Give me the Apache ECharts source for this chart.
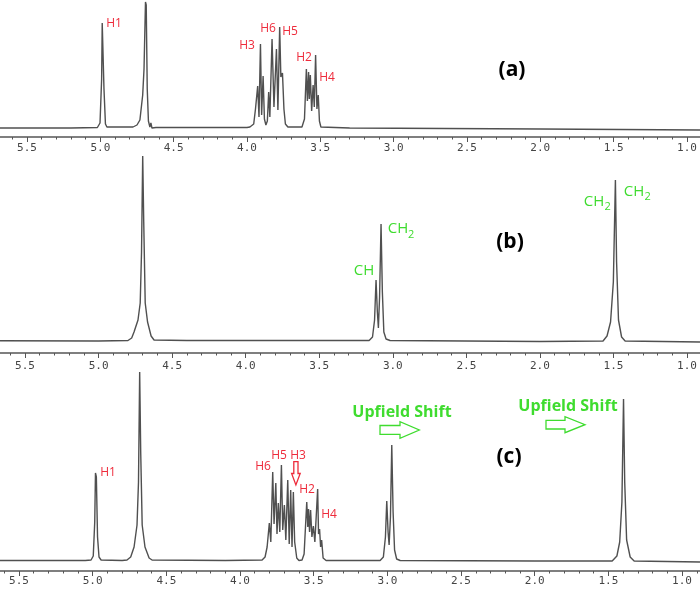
<!DOCTYPE html>
<html><head><meta charset="utf-8">
<script src="https://cdn.jsdelivr.net/npm/echarts@6/dist/echarts.min.js"></script>
<style>html,body{margin:0;padding:0;background:#fff}#c{width:700px;height:589px}</style>
</head><body><div id="c"></div>
<script>
// chemical shift (ppm) and intensity
const shiftA = [5.684,5.2,5.02,5.016,5.002,4.991,4.987,4.982,4.975,4.965,4.955,4.80,4.777,4.750,4.730,4.711,4.702,4.692,4.687,4.680,4.672,4.662,4.655,4.648,4.621,4.0,3.980,3.954,3.942,3.927,3.918,3.908,3.900,3.890,3.881,3.871,3.861,3.852,3.844,3.829,3.816,3.799,3.789,3.777,3.769,3.758,3.748,3.738,3.721,3.625,3.608,3.595,3.588,3.580,3.575,3.568,3.559,3.549,3.541,3.532,3.523,3.514,3.506,3.496,3.3,2.0,0.911];
const intenA = [1,1,1.5,2,6,50,106,104,40,5,2,2,2,4,9,34,60,127,124,40,8,2,6,1,1.5,1.5,2,5,20,43,12,85,14,53,10,4,8,37,12,90,22,80,19,102,52,56,20,5,2,2,10,60,28,57,30,54,18,44,22,74,20,34,8,2,1,0,-1];
const shiftB = [5.670,5.0,4.800,4.775,4.759,4.732,4.717,4.708,4.700,4.693,4.683,4.667,4.643,4.623,4.4,3.161,3.138,3.124,3.114,3.105,3.098,3.090,3.080,3.071,3.061,3.046,3.019,2.0,1.571,1.544,1.520,1.501,1.487,1.479,1.466,1.445,1.421,0.912];
const intenB = [1.3,1,1.5,4,10,22,39,90,186,120,39,20,6,2,1.5,1.5,5,22,62,30,14,45,118,50,10,3,1.5,0.5,1,6,20,60,162,80,22,5,1,0];
const shiftC = [5.629,5.05,5.011,4.996,4.986,4.981,4.975,4.967,4.957,4.943,4.80,4.767,4.742,4.719,4.699,4.689,4.681,4.674,4.664,4.645,4.617,4.597,4.1,3.850,3.830,3.816,3.801,3.791,3.778,3.769,3.757,3.749,3.740,3.730,3.719,3.710,3.699,3.689,3.676,3.666,3.656,3.647,3.638,3.629,3.615,3.600,3.579,3.565,3.547,3.540,3.535,3.528,3.521,3.512,3.502,3.492,3.473,3.467,3.460,3.453,3.446,3.436,3.416,3.049,3.027,3.013,3.004,2.995,2.988,2.979,2.970,2.961,2.951,2.937,2.913,2.0,1.474,1.442,1.423,1.408,1.397,1.389,1.376,1.352,1.325,0.878];
const intenC = [1.5,1.5,2,6,40,89,85,25,5,2,1.5,2,5,15,37,80,190,110,37,15,4,2,1.5,2,5,15,39,20,90,38,79,28,59,30,97,32,57,22,82,18,72,15,70,20,4,1.5,2,8,60,35,53,30,52,25,36,20,73,28,33,15,22,4,1.5,1.5,5,25,61,30,17,45,117,50,12,3,1.5,1,1,6,20,60,163,80,22,5,1,0];
const majorTicks = [1.0,1.5,2.0,2.5,3.0,3.5,4.0,4.5,5.0,5.5];

const minorTicks = [];
for (let i = 9; i <= 56; i++) minorTicks.push(i / 10);

const zip = (xs, ys) => xs.map((x, i) => [x, ys[i]]);
const panels = [
  {data: zip(shiftA, intenA), xmin: 0.911, xmax: 5.684, ymin: -8, ymax: 129, top: 0, height: 137, margin: 6},
  {data: zip(shiftB, intenB), xmin: 0.912, xmax: 5.670, ymin: -11, ymax: 192, top: 150, height: 203, margin: 8},
  {data: zip(shiftC, intenC), xmin: 0.878, xmax: 5.629, ymin: -9, ymax: 197, top: 365, height: 206, margin: 5}
];
const AX = '#555';
const grid = [], xAxis = [], yAxis = [], series = [];
panels.forEach((p, i) => {
  grid.push({left: 0, right: 0, top: p.top, height: p.height});
  xAxis.push({type: 'value', gridIndex: i, position: 'bottom', min: p.xmin, max: p.xmax, inverse: true,
    axisLine: {show: true, onZero: false, lineStyle: {color: AX, width: 1.6}},
    axisTick: {show: true, customValues: majorTicks, length: 5, lineStyle: {color: AX, width: 1}},
    axisLabel: {show: true, customValues: majorTicks, formatter: v => Number(v).toFixed(1), margin: p.margin,
      fontFamily: 'DejaVu Sans Mono', fontSize: 11, color: '#444'},
    splitLine: {show: false}});
  xAxis.push({type: 'value', gridIndex: i, position: 'bottom', min: p.xmin, max: p.xmax, inverse: true,
    axisLine: {show: false, onZero: false},
    axisTick: {show: true, customValues: minorTicks, length: 2.5, lineStyle: {color: AX, width: 1}},
    axisLabel: {show: false}, splitLine: {show: false}});
  yAxis.push({type: 'value', gridIndex: i, min: p.ymin, max: p.ymax, show: false, splitLine: {show: false}});
  series.push({type: 'line', xAxisIndex: i * 2, yAxisIndex: i, data: p.data, showSymbol: false, clip: false,
    lineStyle: {color: '#505050', width: 1.4}, silent: true});
});

const RED = '#ee2b3b', GREEN = '#3fdc2f';
const txt = (text, x, y, fill, size, weight, align) => ({type: 'text', z: 10, style: {text, x, y, fill,
  fontSize: size, fontFamily: 'Open Sans', fontWeight: weight || 'normal', align: align || 'center', verticalAlign: 'middle'}});
const poly = (points, stroke) => ({type: 'polygon', z: 10, shape: {points}, style: {fill: '#fff', stroke, lineWidth: 1.3}});

const graphic = [
  txt('H1', 114, 24, RED, 12), txt('H3', 247, 46, RED, 12), txt('H6', 268, 29, RED, 12),
  txt('H5', 290, 32, RED, 12), txt('H2', 304, 58, RED, 12), txt('H4', 327, 78, RED, 12),
  txt('(a)', 512, 70, '#000', 21, 'bold'),
  txt('CH', 364, 271, GREEN, 15),
  txt('CH', 398, 229, GREEN, 15), txt('2', 408, 235, GREEN, 11, 'normal', 'left'),
  txt('CH', 594, 201.5, GREEN, 15), txt('2', 604.5, 207, GREEN, 11, 'normal', 'left'),
  txt('CH', 634, 191.5, GREEN, 15), txt('2', 644.5, 197, GREEN, 11, 'normal', 'left'),
  txt('(b)', 510, 242, '#000', 21, 'bold'),
  txt('H1', 108, 473, RED, 12), txt('H6', 263, 467, RED, 12), txt('H5', 279, 456, RED, 12),
  txt('H3', 298, 456, RED, 12), txt('H2', 307, 490, RED, 12), txt('H4', 329, 515, RED, 12),
  txt('Upfield Shift', 402, 412, GREEN, 16, 'bold'), txt('Upfield Shift', 568, 406, GREEN, 16, 'bold'),
  txt('(c)', 509, 457, '#000', 21, 'bold'),
  poly([[380,425.5],[400,425.5],[400,421.7],[419.3,430],[400,438.3],[400,434.3],[380,434.3]], GREEN),
  poly([[546,420.3],[565,420.3],[565,416.7],[585,424.7],[565,432.7],[565,429],[546,429]], GREEN),
  poly([[293.8,461.7],[298,461.7],[298,473.5],[300.2,473.5],[295.9,485],[291.6,473.5],[293.8,473.5]], RED)
];

const chart = echarts.init(document.getElementById('c'), null, {renderer: 'canvas'});
chart.setOption({animation: false, backgroundColor: '#fff', grid, xAxis, yAxis, series, graphic});
</script></body></html>
